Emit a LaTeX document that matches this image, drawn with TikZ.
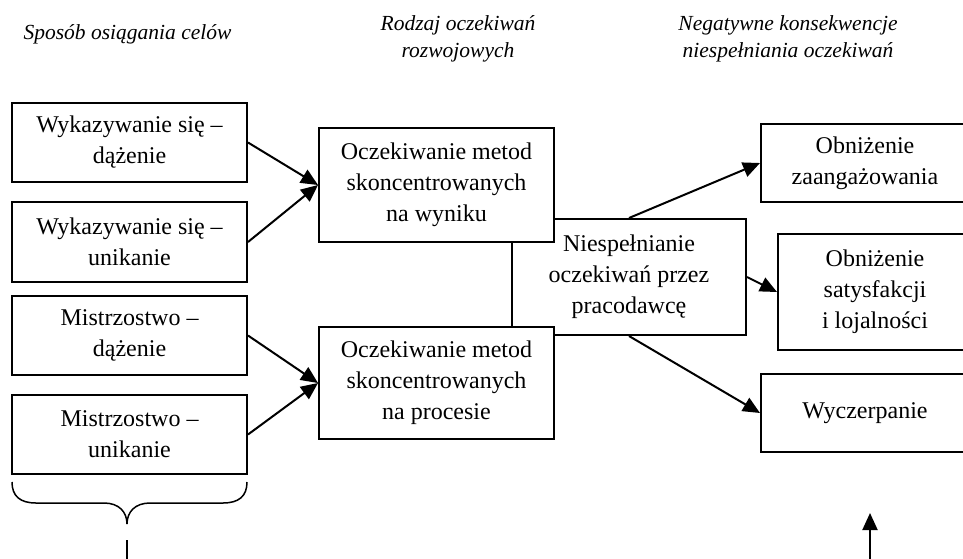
\documentclass[tikz,border=0pt]{standalone}
\usepackage{fontspec}
\setmainfont{Liberation Serif}
\usetikzlibrary{arrows.meta,positioning}

\begin{document}
\begin{tikzpicture}[x=1pt, y=-1pt, line width=2pt,
  every node/.style={font=\fontsize{24}{31}\selectfont},
  box/.style={draw, fill=white, align=center, inner sep=0pt},
  head/.style={align=center, font=\fontsize{21.5}{27}\selectfont\itshape},
  arr/.style={-{Triangle[length=17pt, width=15pt]}}]
\useasboundingbox (0,0) rectangle (963,558);
\clip (0,0) rectangle (963,558);
% column headers
\node[head] (hsposob) at (127.5,34) {Sposób osiągania celów};
\node[head] (hrodzaj) at (458,39) {Rodzaj oczekiwań\\rozwojowych};
\node[head] (hnegat) at (788,39) {Negatywne konsekwencje\\niespełniania oczekiwań};
% left column
\node[box, minimum width=235pt, minimum height=79pt] (wdaz) at (129.5,142.5) {Wykazywanie się –\\dążenie};
\node[box, minimum width=235pt, minimum height=80pt] (wunik) at (129.5,242) {Wykazywanie się –\\unikanie};
\node[box, minimum width=235pt, minimum height=79pt] (mdaz) at (129.5,335.5) {Mistrzostwo –\\dążenie};
\node[box, minimum width=235pt, minimum height=79pt] (munik) at (129.5,434.5) {Mistrzostwo –\\unikanie};
% centre box goes first, the two middle boxes cover its left part
\node[box, minimum width=234pt, minimum height=116pt] (niesp) at (629,277) {Niespełnianie\\oczekiwań przez\\pracodawcę};
\node[box, minimum width=235pt, minimum height=114pt] (wynik) at (436.5,185) {Oczekiwanie metod\\skoncentrowanych\\na wyniku};
\node[box, minimum width=235pt, minimum height=112pt] (proces) at (436.5,383) {Oczekiwanie metod\\skoncentrowanych\\na procesie};
% right column
\node[box, minimum width=208pt, minimum height=78pt] (zaang) at (865,163) {Obniżenie\\zaangażowania};
\node[box, minimum width=194pt, minimum height=116pt] (satysf) at (875,292) {Obniżenie\\satysfakcji\\i lojalności};
\node[box, minimum width=208pt, minimum height=78pt] (wyczerp) at (865,413) {Wyczerpanie};
\draw[arr] (wdaz.east) -- (wynik.west);
\draw[arr] (wunik.east) -- (wynik.west);
\draw[arr] (mdaz.east) -- (proces.west);
\draw[arr] (munik.east) -- (proces.west);
\draw[arr] (niesp.north) -- (zaang.west);
\draw[arr] (niesp.east) -- (satysf.west);
\draw[arr] (niesp.south) -- (wyczerp.west);
% brace under the left column
\coordinate (btip) at (127,524);
\coordinate (bline) at (127,540);
\coordinate (bend) at (127,565);
\draw[line width=1.5pt] (12,482) .. controls (12,496) and (20,503) .. (36,503) -- (104,503)
  .. controls (119,503) and (127,512) .. (btip)
  .. controls (127,512) and (135,503) .. (150,503) -- (223,503)
  .. controls (239,503) and (247,496) .. (247,482);
\draw (bline) -- (bend);
% arrow from below
\coordinate (rfoot) at (870,565);
\coordinate (rtip) at (870,513);
\draw[arr] (rfoot) -- (rtip);
\end{tikzpicture}
\end{document}
